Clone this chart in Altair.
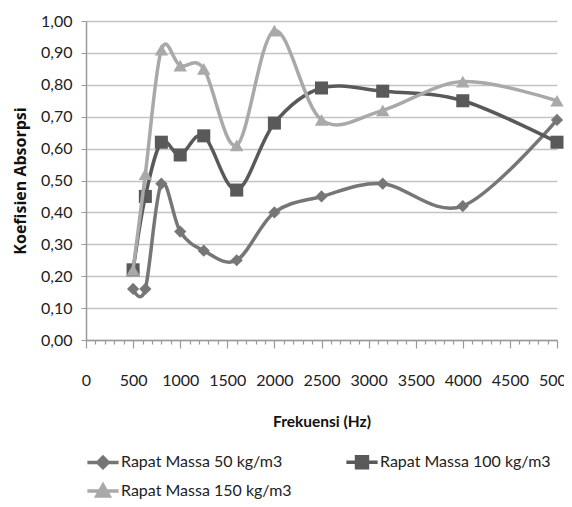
import altair as alt
import pandas as pd

# ---- data ----
freq = [500, 630, 800, 1000, 1250, 1600, 2000, 2500, 3150, 4000, 5000]
s50 = [0.16, 0.16, 0.49, 0.34, 0.28, 0.25, 0.40, 0.45, 0.49, 0.42, 0.69]
s100 = [0.22, 0.45, 0.62, 0.58, 0.64, 0.47, 0.68, 0.79, 0.78, 0.75, 0.62]
s150 = [0.22, 0.52, 0.91, 0.86, 0.85, 0.61, 0.97, 0.69, 0.72, 0.81, 0.75]
series_names = ["Rapat Massa 50 kg/m3", "Rapat Massa 100 kg/m3", "Rapat Massa 150 kg/m3"]
colors = ["#767676", "#595959", "#a9a9a9"]
marker_shapes = ["diamond", "square", "triangle-up"]
marker_sizes = [150, 170, 180]
legend_shapes = [
    "M-1.2,0H1.2M0,-0.4L0.4,0L0,0.4L-0.4,0Z",
    "M-1.2,0H1.2M-0.42,-0.42H0.42V0.42H-0.42Z",
    "M-1.2,0H1.2M0,-0.45L0.47,0.38H-0.47Z",
]
x_ticks = list(range(0, 5001, 100))
y_ticks = [0.0, 0.1, 0.2, 0.3, 0.4, 0.5, 0.6, 0.7, 0.8, 0.9, 1.0]

rows = []
for name, vals in zip(series_names, [s50, s100, s150]):
    for f, v in zip(freq, vals):
        rows.append({"series": name, "freq": f, "value": v})
df = pd.DataFrame(rows)

FONT = "Lato"
AX = "#9a9a9a"

x_enc = alt.X(
    "freq:Q",
    scale=alt.Scale(domain=[0, 5000], nice=False),
    axis=alt.Axis(
        values=x_ticks,
        labelExpr="datum.value % 500 === 0 ? '' + datum.value : ''",
        labelOverlap=False,
        labelFlush=False,
        grid=False,
        domainColor=AX,
        domainWidth=1.5,
        tickColor=AX,
        tickWidth=1.2,
        tickSize={"condition": {"test": "datum.value % 500 === 0", "value": 8}, "value": 4},
        labelPadding=24,
        labelFont=FONT,
        labelFontSize=16,
        labelColor="#222222",
        title="Frekuensi (Hz)",
        titleFont=FONT,
        titleFontSize=15.5,
        titleFontWeight="bold",
        titleColor="#111111",
        titleBaseline="middle",
        titleY=81,
    ),
)
y_enc = alt.Y(
    "value:Q",
    scale=alt.Scale(domain=[0, 1], nice=False),
    axis=alt.Axis(
        values=y_ticks,
        labelExpr="replace(format(datum.value, '.2f'), '.', ',')",
        grid=True,
        gridColor="#c4c4c4",
        gridWidth=1.5,
        domainColor=AX,
        domainWidth=1.5,
        tickColor=AX,
        tickSize=5,
        labelPadding=9,
        labelFont=FONT,
        labelFontSize=16,
        labelColor="#222222",
        title="Koefisien Absorpsi",
        titleFont="Open Sans",
        titleFontSize=16,
        titleFontWeight="bold",
        titleColor="#111111",
        titleBaseline="middle",
        titleX=-66,
    ),
)

color_scale = alt.Scale(domain=series_names, range=colors)

base = alt.Chart(df)

leg = alt.Legend(
    title=None,
    orient="none",
    direction="horizontal",
    legendX=2,
    legendY=426,
    columns=2,
    columnPadding=47,
    rowPadding=1,
    symbolSize=676,
    symbolStrokeWidth=3.5,
    symbolOpacity=1,
    labelFont=FONT,
    labelFontSize=16,
    labelColor="#222222",
    labelOffset=3,
    labelLimit=300,
)

# invisible layer carrying the legend (line + marker symbols)
legend_layer = base.mark_point(filled=True, opacity=0).encode(
    x=x_enc,
    y=y_enc,
    color=alt.Color("series:N", scale=color_scale, legend=leg),
    stroke=alt.Stroke("series:N", scale=alt.Scale(domain=series_names, range=colors), legend=leg),
    shape=alt.Shape("series:N", scale=alt.Scale(domain=series_names, range=legend_shapes), legend=leg),
)

layers = [legend_layer]
for name, shp, sz in zip(series_names, marker_shapes, marker_sizes):
    sub = base.transform_filter(alt.datum.series == name)
    layers.append(
        sub.mark_line(interpolate="cardinal", strokeWidth=3.5).encode(
            x=x_enc,
            y=y_enc,
            color=alt.Color("series:N", scale=color_scale, legend=None),
            order=alt.Order("freq:Q"),
        )
    )
    layers.append(
        sub.mark_point(filled=True, opacity=1, shape=shp, size=sz).encode(
            x=x_enc,
            y=y_enc,
            color=alt.Color("series:N", scale=color_scale, legend=None),
        )
    )

chart = (
    alt.layer(*layers)
    .properties(
        width=471,
        height=319,
        autosize=alt.AutoSizeParams(type="none"),
        padding={"left": 78, "top": 13, "right": 7, "bottom": 159},
        background="white",
    )
    .configure_view(strokeWidth=0)
)

chart.save("out.html", embed_options={"renderer": "svg", "actions": False})
